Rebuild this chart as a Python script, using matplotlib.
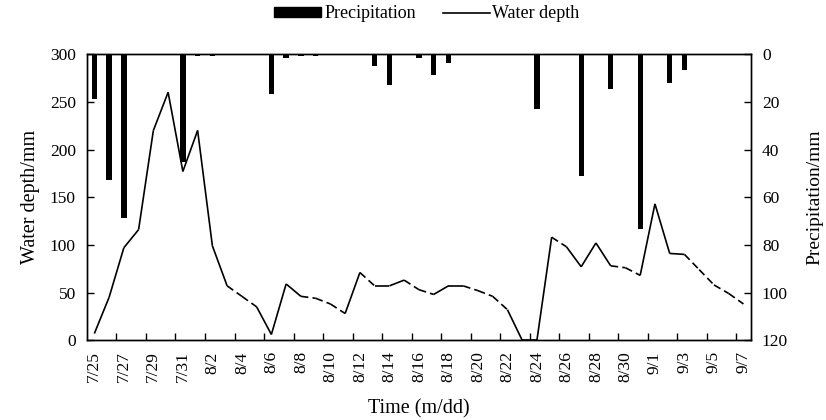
import matplotlib.pyplot as plt
from matplotlib.patches import Patch
from matplotlib.lines import Line2D

plt.rcParams['font.family'] = ['Liberation Serif', 'DejaVu Serif']

# dias (etiquetas del eje x)
dates = ['7/25', '7/26', '7/27', '7/28', '7/29', '7/30', '7/31',
         '8/1', '8/2', '8/3', '8/4', '8/5', '8/6', '8/7', '8/8', '8/9',
         '8/10', '8/11', '8/12', '8/13', '8/14', '8/15', '8/16', '8/17',
         '8/18', '8/19', '8/20', '8/21', '8/22', '8/23', '8/24', '8/25',
         '8/26', '8/27', '8/28', '8/29', '8/30', '8/31',
         '9/1', '9/2', '9/3', '9/4', '9/5', '9/6', '9/7']

# lamina de agua (mm)
depth = [7, 45, 97, 116, 220, 260, 177, 220, 99, 57, 46, 35, 6, 59, 46,
         44, 38, 28, 71, 57, 57, 63, 53, 48, 57, 57, 52, 46, 32, 0,
         0, 108, 98, 77, 102, 78, 76, 68, 143, 91, 90, 74, 58, 49, 38]

# precipitacion (mm)
precip = [18.6, 52.9, 68.7, 0, 0, 0, 45.2, 0.8, 0.8, 0, 0, 0, 16.5, 1.8, 0.8,
          0.8, 0.5, 0, 0, 5.0, 13.0, 0, 1.5, 8.8, 3.6, 0, 0.5, 0, 0, 0,
          22.8, 0, 0, 51.0, 0, 14.7, 0, 73.2, 0, 12.3, 6.7, 0, 0, 0, 0]

# tramos dibujados en discontinua (indice del punto inicial)
dashed_from = [9, 10, 14, 15, 16, 18, 21, 22, 25, 26, 27, 31, 35, 36,
               40, 41, 42, 43]

x = list(range(len(dates)))

fig, ax = plt.subplots(figsize=(8.26, 4.2), dpi=100)
fig.subplots_adjust(left=0.1053, right=0.909, bottom=0.19, top=0.871)
ax2 = ax.twinx()

# barras de precipitacion, eje invertido
ax2.bar(x, precip, width=0.36, color='black', zorder=2)
ax2.set_ylim(120, 0)
ax2.set_yticks(range(0, 121, 20))

# lamina de agua por tramos
for i in range(len(x) - 1):
    ls = (0, (4.5, 2.5)) if i in dashed_from else '-'
    ax.plot(x[i:i + 2], depth[i:i + 2], color='black', lw=1.2, linestyle=ls,
            solid_capstyle='butt')

ax.set_xlim(-0.5, len(x) - 0.5)
ax.set_ylim(0, 300)
ax.set_yticks(range(0, 301, 50))
ax.set_xticks(x[::2])
ax.set_xticklabels(dates[::2], rotation=90)
ax.set_xticks([k + 1.5 for k in range(0, len(x) - 1, 2)], minor=True)
ax.tick_params(axis='x', which='major', length=0, pad=8, labelsize=12.5)
ax.tick_params(axis='x', which='minor', direction='in', length=5, width=1)
ax.tick_params(axis='y', direction='in', length=5, width=1, labelsize=12.5, pad=8)
ax2.tick_params(axis='y', direction='in', length=5, width=1, labelsize=12.5, pad=8)

for a in (ax, ax2):
    for s in a.spines.values():
        s.set_linewidth(1.0)

ax.set_ylabel('Water depth/mm', fontsize=14.5)
ax.yaxis.set_label_coords(-0.071, 0.5)
ax2.set_ylabel('Precipitation/mm', fontsize=14)
ax2.yaxis.set_label_coords(1.083, 0.5)
ax.set_xlabel('Time (m/dd)', fontsize=14.5)
ax.xaxis.set_label_coords(0.5, -0.205)

handles = [Patch(facecolor='black', edgecolor='black'),
           Line2D([0], [0], color='black', lw=1.2)]
fig.legend(handles, ['Precipitation', 'Water depth'], loc='center',
           bbox_to_anchor=(0.517, 0.967), ncol=2, frameon=False, fontsize=13,
           handlelength=2.6, handletextpad=0.15, columnspacing=1.5,
           handleheight=0.45)

fig.savefig('out.png', dpi=100)
